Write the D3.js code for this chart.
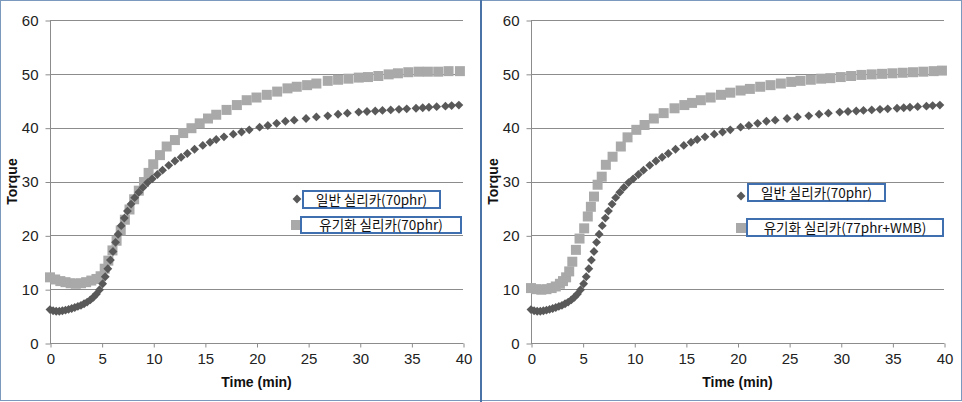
<!DOCTYPE html>
<html>
<head>
<meta charset="utf-8">
<script src="https://cdn.jsdelivr.net/npm/d3@7/dist/d3.min.js"></script>
<style>
  html, body { margin: 0; padding: 0; background: #ffffff; }
  svg { display: block; }
</style>
</head>
<body>
<svg id="chart" width="962" height="402"></svg>
<script>
// ---------------- DATA ----------------
const xTicks = [0, 5, 10, 15, 20, 25, 30, 35, 40];
const yTicks = [0, 10, 20, 30, 40, 50, 60];
const xLabel = "Time (min)";
const yLabel = "Torque";

// 일반 실리카(70phr) - same control run shown in both panels
const timeNormal = [0, 0.3, 0.6, 0.9, 1.2, 1.5, 1.8, 2.1, 2.4, 2.7, 3.0, 3.3, 3.6, 3.9, 4.2, 4.5, 4.8, 5.1, 5.35, 5.6,
  5.85, 6.1, 6.35, 6.6, 6.9, 7.2, 7.5, 7.85, 8.2, 8.6, 9.0, 9.45, 9.9, 10.4, 10.9, 11.5, 12.1, 12.7, 13.3, 14.0,
  14.8, 15.5, 16.1, 16.85, 17.75, 18.55, 19.3, 20.3, 21.1, 21.95, 22.8, 23.65, 24.8, 25.8, 26.9, 27.9, 28.8, 29.9,
  30.7, 31.5, 32.2, 33.0, 33.8, 34.55, 35.45, 36.1, 36.7, 37.45, 38.3, 38.9, 39.6];
const torqueNormal = [6.2, 6.0, 5.9, 5.9, 6.0, 6.1, 6.25, 6.4, 6.6, 6.8, 7.0, 7.3, 7.6, 8.0, 8.5, 9.1, 9.9, 11.0, 12.3, 13.8,
  15.4, 17.0, 18.7, 20.2, 21.8, 23.2, 24.5, 25.8, 27.0, 28.0, 28.9, 29.8, 30.5, 31.3, 32.1, 33.0, 33.8, 34.5, 35.2, 36.0,
  36.7, 37.3, 37.8, 38.3, 38.8, 39.2, 39.6, 40.1, 40.4, 40.8, 41.2, 41.4, 41.7, 42.0, 42.2, 42.5, 42.7, 42.9,
  43.0, 43.1, 43.2, 43.3, 43.4, 43.5, 43.6, 43.7, 43.8, 43.9, 44.0, 44.1, 44.2];

// 유기화 실리카(70phr) - left panel
const timeOrg70 = [0, 0.5, 1.0, 1.5, 2.0, 2.5, 3.0, 3.5, 4.0, 4.5, 4.9, 5.3, 5.65, 6.05, 6.45, 6.85, 7.25, 7.7, 8.15, 8.6,
  9.1, 9.55, 10.0, 10.65, 11.3, 12.1, 12.9, 13.7, 14.5, 15.3, 16.1, 17.1, 18.1, 19.05, 20.0, 21.0, 22.0, 23.0, 23.9,
  24.9, 25.8, 26.9, 27.9, 28.9, 29.9, 30.8, 31.8, 32.8, 33.7, 34.7, 35.7, 36.6, 37.6, 38.6, 39.7];
const torqueOrg70 = [12.2, 11.8, 11.5, 11.3, 11.1, 11.0, 11.1, 11.3, 11.6, 11.9, 12.4, 13.8, 15.3, 17.2, 19.0, 20.9, 22.9, 24.8, 26.7, 28.3,
  29.9, 31.6, 33.2, 34.9, 36.5, 37.7, 39.0, 39.9, 40.8, 41.7, 42.4, 43.3, 44.2, 45.1, 45.6, 46.1, 46.7, 47.3, 47.6,
  47.9, 48.2, 48.7, 48.9, 49.1, 49.3, 49.4, 49.6, 49.9, 50.1, 50.3, 50.4, 50.4, 50.4, 50.5, 50.5];

// 유기화 실리카(77phr+WMB) - right panel
const timeOrg77 = [0, 0.5, 1.0, 1.5, 2.0, 2.4, 2.8, 3.1, 3.4, 3.7, 4.0, 4.35, 4.7, 5.15, 5.5, 5.8, 6.1, 6.45, 6.85, 7.25,
  7.9, 8.7, 9.35, 10.2, 11.0, 11.9, 12.85, 13.9, 14.85, 15.6, 16.45, 17.4, 18.4, 19.3, 20.3, 21.2, 22.2, 23.2, 24.2,
  25.2, 26.1, 27.1, 28.1, 29.0, 30.0, 31.0, 32.0, 33.0, 34.0, 35.0, 36.0, 37.0, 38.0, 39.0, 39.8];
const torqueOrg77 = [10.2, 10.0, 9.9, 10.0, 10.2, 10.5, 11.0, 11.5, 12.2, 13.3, 15.1, 17.3, 19.4, 21.3, 23.5, 25.3, 27.2, 29.4, 30.9, 33.1,
  34.6, 36.5, 38.2, 39.6, 40.5, 41.7, 42.7, 43.6, 44.2, 44.6, 45.1, 45.6, 46.1, 46.5, 46.9, 47.2, 47.6, 47.9, 48.2,
  48.5, 48.7, 48.9, 49.1, 49.2, 49.4, 49.6, 49.8, 49.9, 50.0, 50.1, 50.2, 50.3, 50.4, 50.5, 50.6];

const legendNormal = "일반 실리카(70phr)";
const legendOrg70 = "유기화 실리카(70phr)";
const legendOrg77 = "유기화 실리카(77phr+WMB)";

// ---------------- DRAW ----------------
const svg = d3.select("#chart");
const DARK = "#595959", LIGHT = "#a9a9a9", GRID = "#8c8c8c", BOXC = "#3f6fae";

function zip(t, v) { return t.map((d, i) => ({ t: d, v: v[i] })); }

const panels = [
  { ox: 0, light: zip(timeOrg70, torqueOrg70), lightName: legendOrg70,
    leg: [{ mx: 297, my: 199, bx: 303, by: 191, bw: 137, bh: 17 },
          { mx: 296, my: 225, bx: 301, by: 217, bw: 160, bh: 16 }] },
  { ox: 481, light: zip(timeOrg77, torqueOrg77), lightName: legendOrg77,
    leg: [{ mx: 260, my: 196, bx: 267, by: 184, bw: 137, bh: 17 },
          { mx: 260, my: 228, bx: 266, by: 219, bw: 196, bh: 17 }] }
];
const normal = zip(timeNormal, torqueNormal);

const diamond = d3.symbol().type(d3.symbolDiamond2).size(50);
const square = d3.symbol().type(d3.symbolSquare).size(100);

panels.forEach(p => {
  const g = svg.append("g").attr("transform", `translate(${p.ox},0)`);
  const x = d3.scaleLinear().domain([0, 40]).range([50, 463]);
  const y = d3.scaleLinear().domain([0, 60]).range([343, 20]);

  // gridlines
  g.append("g").selectAll("line").data(yTicks.filter(d => d > 0)).join("line")
    .attr("x1", x(0)).attr("x2", x(40))
    .attr("y1", d => Math.round(y(d)) + 0.5).attr("y2", d => Math.round(y(d)) + 0.5)
    .attr("stroke", GRID).attr("stroke-width", 1);

  // axes
  const yAxis = g.append("g").attr("transform", `translate(${x(0) + 0.5},0.5)`)
    .call(d3.axisLeft(y).tickValues(yTicks).tickSize(5).tickPadding(7).tickFormat(d3.format("d")));
  const xAxis = g.append("g").attr("transform", `translate(0.5,${Math.round(y(0)) + 0.5})`)
    .call(d3.axisBottom(x).tickValues(xTicks).tickSize(4).tickPadding(6).tickFormat(d3.format("d")));
  [yAxis, xAxis].forEach(a => {
    a.select(".domain").remove();
    a.selectAll(".tick line").attr("stroke", GRID);
    a.selectAll(".tick text").attr("fill", "#222").attr("font-family", "Liberation Sans, Arial, sans-serif")
      .attr("font-size", 15);
  });
  g.append("line").attr("x1", x(0) + 0.5).attr("x2", x(0) + 0.5).attr("y1", y(60)).attr("y2", y(0) + 0.5)
    .attr("stroke", GRID);
  g.append("line").attr("x1", x(0)).attr("x2", x(40) + 0.5).attr("y1", Math.round(y(0)) + 0.5).attr("y2", Math.round(y(0)) + 0.5)
    .attr("stroke", GRID);

  // axis titles
  g.append("text").attr("x", (x(0) + x(40)) / 2).attr("y", 387).attr("text-anchor", "middle")
    .attr("font-family", "Liberation Sans, Arial, sans-serif").attr("font-weight", "bold").attr("font-size", 14)
    .attr("fill", "#111").text(xLabel);
  g.append("text").attr("transform", `translate(17,${(y(0) + y(60)) / 2}) rotate(-90)`).attr("text-anchor", "middle")
    .attr("font-family", "Liberation Sans, Arial, sans-serif").attr("font-weight", "bold").attr("font-size", 14)
    .attr("fill", "#111").text(yLabel);

  // series: squares, then diamonds on top
  g.append("g").selectAll("path").data(p.light).join("path")
    .attr("d", square).attr("transform", d => `translate(${x(d.t)},${y(d.v)})`).attr("fill", LIGHT);
  g.append("g").selectAll("path").data(normal).join("path")
    .attr("d", diamond).attr("transform", d => `translate(${x(d.t)},${y(d.v)})`).attr("fill", DARK);

  // legend
  const items = [{ name: legendNormal, sym: diamond, c: DARK }, { name: p.lightName, sym: square, c: LIGHT }];
  items.forEach((it, i) => {
    const L = p.leg[i];
    g.append("path").attr("d", it.sym).attr("transform", `translate(${L.mx},${L.my})`).attr("fill", it.c);
    g.append("rect").attr("x", L.bx).attr("y", L.by).attr("width", L.bw).attr("height", L.bh)
      .attr("fill", "#fff").attr("stroke", BOXC).attr("stroke-width", 2);
    g.append("text").attr("x", L.bx + L.bw / 2).attr("y", L.by + L.bh / 2 + 5).attr("text-anchor", "middle")
      .attr("font-family", "Noto Sans CJK KR, sans-serif").attr("font-size", 13.5).attr("fill", "#111")
      .text(it.name);
  });
});

// frame and separator
svg.append("rect").attr("x", 0.5).attr("y", 0.5).attr("width", 961).attr("height", 400)
  .attr("fill", "none").attr("stroke", "#7b98bd").attr("stroke-width", 1);
svg.append("line").attr("x1", 481).attr("x2", 481).attr("y1", 0).attr("y2", 402)
  .attr("stroke", "#4a74a8").attr("stroke-width", 2);
</script>
</body>
</html>
